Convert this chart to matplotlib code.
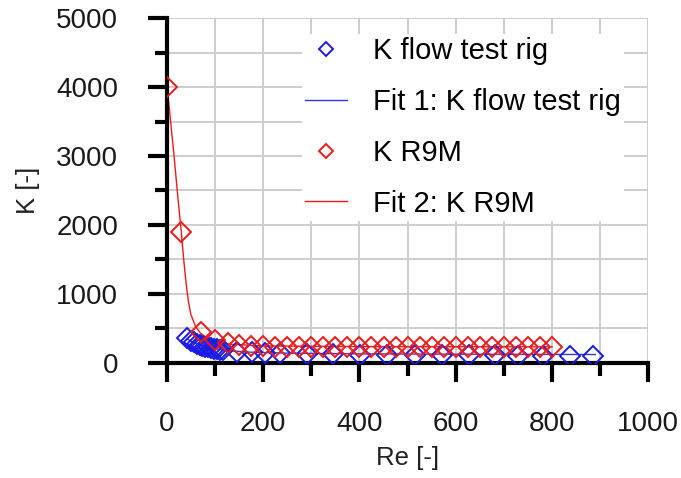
"""Pressure loss coefficient K versus Reynolds number, test rig vs R9M."""
import matplotlib
matplotlib.use('Agg')
import matplotlib.pyplot as plt
from matplotlib.ticker import MultipleLocator

OUT_FILENAME = 'out.png'

# K flow test rig (blue diamonds)
re_rig = [42, 50, 56, 62, 68, 74, 80, 86, 92, 98, 104, 110, 116, 146, 177, 204, 235,
          291, 345, 401, 457, 515, 572, 627, 682, 730, 782, 838, 886]
k_rig = [360, 320, 300, 280, 260, 250, 235, 225, 215, 205, 200, 190, 185, 160, 150, 140, 135,
         130, 125, 120, 115, 115, 110, 110, 110, 105, 105, 100, 100]

# Fit 1 (blue line)
fit1_re = [42, 60, 80, 100, 130, 170, 250, 400, 600, 890]
fit1_k = [345, 280, 235, 205, 175, 155, 140, 130, 125, 120]

# K R9M (red diamonds)
re_r9m = [0, 30, 70, 100, 127, 150, 175, 200, 225, 250, 275, 300, 325, 350, 375, 400,
          425, 450, 475, 500, 525, 550, 575, 600, 625, 650, 675, 700, 725, 750, 775, 800]
k_r9m = [4000, 1900, 450, 330, 290, 260, 245, 240, 235, 235, 235, 232, 232, 232, 232, 232,
         232, 232, 232, 232, 232, 232, 232, 232, 232, 232, 232, 232, 232, 232, 232, 232]

# Fit 2 (red line)
fit2_re = [0, 5, 10, 15, 20, 25, 30, 35, 40, 45, 50, 60, 70, 85, 100, 130, 200, 400, 800]
fit2_k = [4000, 3700, 3350, 3000, 2620, 2250, 1900, 1500, 1150, 880, 700, 520, 430, 350, 310,
          270, 245, 235, 232]


def create_chart():
    plt.rcParams['font.family'] = ['Liberation Sans', 'DejaVu Sans']
    fig = plt.figure(figsize=(6.81, 4.78), dpi=100)
    ax = fig.add_axes([0.245, 0.241, 0.707, 0.721])

    ax.plot(re_rig, k_rig, linestyle='none', marker='D', markersize=10.5,
            markerfacecolor='none', markeredgecolor='#1a1ae6', markeredgewidth=1.4,
            label='K flow test rig', zorder=3)
    ax.plot(fit1_re, fit1_k, color='#3535e0', linewidth=1, label='Fit 1: K flow test rig', zorder=2)
    ax.plot(re_r9m, k_r9m, linestyle='none', marker='D', markersize=10.5,
            markerfacecolor='none', markeredgecolor='#ee1a1a', markeredgewidth=1.4,
            label='K R9M', zorder=4)
    ax.plot(fit2_re, fit2_k, color='#ee1a1a', linewidth=1, label='Fit 2: K R9M', zorder=2)

    ax.set_xlim(0, 1000)
    ax.set_ylim(0, 5000)
    ax.xaxis.set_major_locator(MultipleLocator(200))
    ax.xaxis.set_minor_locator(MultipleLocator(100))
    ax.yaxis.set_major_locator(MultipleLocator(1000))
    ax.yaxis.set_minor_locator(MultipleLocator(500))
    ax.grid(True, which='both', color='#cdcdcd', linewidth=1.4)
    ax.set_axisbelow(True)

    for side in ('top', 'right'):
        ax.spines[side].set_visible(False)
    for side in ('left', 'bottom'):
        ax.spines[side].set_linewidth(3)
    ax.tick_params(which='major', length=14, width=3, labelsize=20, color='black',
                   labelcolor='#1a1a1a', pad=21)
    ax.tick_params(which='minor', length=9, width=3)

    ax.set_xlabel('Re [-]', fontsize=18.5, color='#222222', labelpad=6)
    ax.set_ylabel('K [-]', fontsize=18.5, color='#222222', labelpad=12)

    leg = ax.legend(loc='upper left', bbox_to_anchor=(0.25, 0.995), fontsize=21,
                    frameon=True, edgecolor='none', framealpha=1, fancybox=False,
                    borderpad=0.1, labelspacing=0.78, handlelength=1.45,
                    handletextpad=0.9, markerscale=0.7)
    leg.get_frame().set_linewidth(0)

    fig.savefig(OUT_FILENAME, dpi=100)
    plt.close(fig)


if __name__ == '__main__':
    create_chart()
